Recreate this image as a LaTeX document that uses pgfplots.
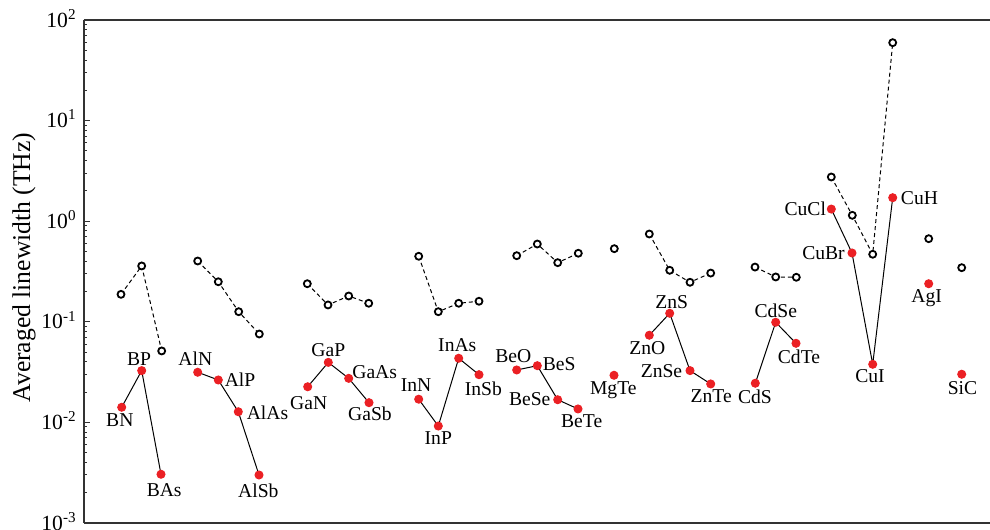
\documentclass[border=0pt]{standalone}
\usepackage{pgfplots}
\pgfplotsset{compat=1.18}
\usepackage{fontspec}
\setmainfont{Liberation Serif}
\definecolor{dotred}{RGB}{235,32,36}
\newcommand{\lab}[5]{\node[lbl, xshift={(#3)*0.5pt}, yshift={-(#4)*0.5pt}] at (axis cs:#1,#2) {#5};}
\tikzset{lbl/.style={font=\fontsize{9.8}{11}\selectfont, inner sep=0pt, text height=6.5pt, text depth=0pt, anchor=center}}
\pgfplotsset{
  redgrp/.style={black, line width=0.5pt, mark=*, mark size=2pt, mark options={solid, fill=dotred, draw=dotred}},
  blkgrp/.style={black, line width=0.5pt, dash pattern=on 2pt off 1.5pt, mark=*, mark size=1.75pt, mark options={solid, fill=white, draw=black, line width=0.9pt}},
}
\begin{document}
\begin{tikzpicture}
\begin{axis}[
  scale only axis, width=453pt, height=251.5pt,
  xmin=84, xmax=990, ymode=log, log basis y=10, ymin=1e-3, ymax=1e2,
  axis x line*=box, axis y line*=left,
  axis line style={line width=0.7pt, black!80},
  xtick=\empty,
  ytick={1e-3,1e-2,1e-1,1,10,100},
  yticklabels={10\textsuperscript{-3},10\textsuperscript{-2},10\textsuperscript{-1},10\textsuperscript{0},10\textsuperscript{1},10\textsuperscript{2}},
  minor ytick={2e-3,3e-3,4e-3,5e-3,6e-3,7e-3,8e-3,9e-3,2e-2,3e-2,4e-2,5e-2,6e-2,7e-2,8e-2,9e-2,0.2,0.3,0.4,0.5,0.6,0.7,0.8,0.9,2,3,4,5,6,7,8,9,20,30,40,50,60,70,80,90},
  tick align=inside, major tick length=3pt, minor tick length=1.6pt,
  tick style={black!80, line width=0.5pt},
  yticklabel style={font=\fontsize{10.8}{12}\selectfont, anchor=base east, inner sep=0pt, xshift=-3.5pt, yshift=-3.6pt},
  clip=false,
]
\coordinate (bl) at (rel axis cs:0,0);
\coordinate (tr) at (rel axis cs:1,1);
\coordinate (ylab) at (rel axis cs:0,0.5);
% black open circles (dashed)
\addplot[blkgrp] coordinates {(121,0.1875) (141.7,0.359) (161.7,0.0513)};
\addplot[blkgrp] coordinates {(197.7,0.402) (218.3,0.250) (238.7,0.126) (259.3,0.0756)};
\addplot[blkgrp] coordinates {(307.3,0.239) (328,0.147) (348.7,0.1805) (368.7,0.1528)};
\addplot[blkgrp] coordinates {(418.7,0.448) (438.3,0.126) (458.7,0.1528) (479,0.160)};
\addplot[blkgrp] coordinates {(516.7,0.454) (537.3,0.593) (557.7,0.387) (578.3,0.480)};
\addplot[blkgrp] coordinates {(614.3,0.533)};
\addplot[blkgrp] coordinates {(649.3,0.746) (669.7,0.325) (690,0.247) (710.7,0.305)};
\addplot[blkgrp] coordinates {(755,0.350) (775.7,0.279) (796.3,0.277)};
\addplot[blkgrp] coordinates {(831.3,2.75) (852.3,1.144) (872.7,0.469) (892.7,59.5)};
\addplot[blkgrp] coordinates {(928.7,0.670)};
\addplot[blkgrp] coordinates {(961.7,0.345)};
% red filled dots (solid)
\addplot[redgrp] coordinates {(121.7,0.01413) (141.7,0.0327) (161,0.00305)};
\addplot[redgrp] coordinates {(197.7,0.0315) (218.3,0.0264) (238.3,0.01276) (259,0.0030)};
\addplot[redgrp] coordinates {(307.7,0.0226) (328.3,0.0395) (348.7,0.0274) (369,0.0157)};
\addplot[redgrp] coordinates {(418.7,0.0170) (438.3,0.0092) (458.7,0.0434) (479,0.0298)};
\addplot[redgrp] coordinates {(516.7,0.0332) (537.3,0.0366) (557.7,0.0168) (578,0.0136)};
\addplot[redgrp] coordinates {(614,0.0294)};
\addplot[redgrp] coordinates {(649.3,0.0735) (669.7,0.1215) (690,0.0327) (710.7,0.0241)};
\addplot[redgrp] coordinates {(755.3,0.0245) (775.7,0.0989) (796,0.0611)};
\addplot[redgrp] coordinates {(831.3,1.32) (852,0.483) (872.7,0.0378) (892.7,1.712)};
\addplot[redgrp] coordinates {(928.7,0.239)};
\addplot[redgrp] coordinates {(961.7,0.0301)};
% labels
\lab{121.7}{0.01413}{-1.9}{12.7}{BN}
\lab{141.7}{0.0327}{-2.7}{-11.4}{BP}
\lab{161}{0.00305}{3.2}{15.7}{BAs}
\lab{197.7}{0.0315}{-2.4}{-13.1}{AlN}
\lab{218.3}{0.0264}{21.7}{0}{AlP}
\lab{238.3}{0.01276}{29.2}{0.8}{AlAs}
\lab{259}{0.0030}{-0.7}{15.8}{AlSb}
\lab{307.7}{0.0226}{1}{15.8}{GaN}
\lab{328.3}{0.0395}{0}{-12.1}{GaP}
\lab{348.7}{0.0274}{26}{-6.5}{GaAs}
\lab{369}{0.0157}{1}{11.5}{GaSb}
\lab{418.7}{0.0170}{-2.7}{-14.3}{InN}
\lab{438.3}{0.0092}{0}{12}{InP}
\lab{458.7}{0.0434}{-1.4}{-13}{InAs}
\lab{479}{0.0298}{4.3}{14.6}{InSb}
\lab{516.7}{0.0332}{-3.4}{-14}{BeO}
\lab{537.3}{0.0366}{21.9}{-1.7}{BeS}
\lab{557.7}{0.0168}{-28}{-0.8}{BeSe}
\lab{578}{0.0136}{3.7}{12}{BeTe}
\lab{614}{0.0294}{-0.7}{12.7}{MgTe}
\lab{649.3}{0.0735}{-2}{12.5}{ZnO}
\lab{669.7}{0.1215}{2}{-10.8}{ZnS}
\lab{690}{0.0327}{-28.5}{0}{ZnSe}
\lab{710.7}{0.0241}{0.5}{12.2}{ZnTe}
\lab{755.3}{0.0245}{-0.3}{14}{CdS}
\lab{775.7}{0.0989}{0.1}{-11.5}{CdSe}
\lab{796}{0.0611}{3}{13.9}{CdTe}
\lab{831.3}{1.32}{-26}{0.2}{CuCl}
\lab{852}{0.483}{-28.5}{-0.2}{CuBr}
\lab{872.7}{0.0378}{-2.7}{12.2}{CuI}
\lab{892.7}{1.712}{26.8}{0.1}{CuH}
\lab{928.7}{0.239}{-2}{11.8}{AgI}
\lab{961.7}{0.0301}{0.8}{14}{SiC}
\end{axis}
\node[rotate=90, anchor=base, font=\fontsize{12.8}{14}\selectfont, inner sep=0pt] at ([xshift=-27pt, yshift=2pt]ylab) {Averaged linewidth (THz)};
\pgfresetboundingbox
\path[use as bounding box] ([shift={(-42pt,-3.5pt)}]bl) rectangle ([shift={(0pt,10pt)}]tr);
\end{tikzpicture}
\end{document}
